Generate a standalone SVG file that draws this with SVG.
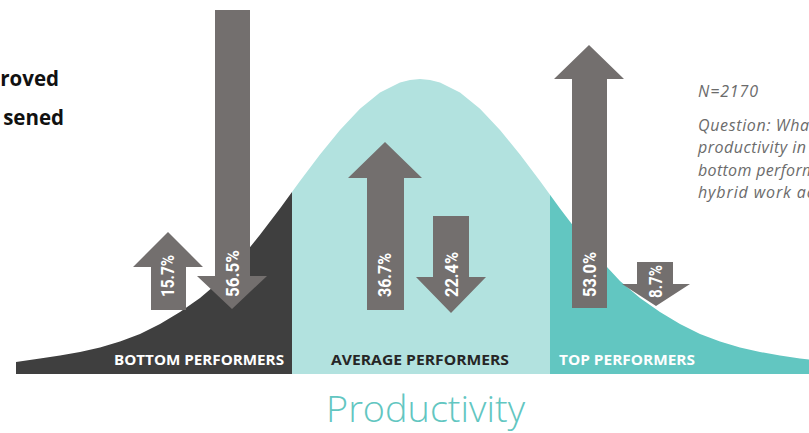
<svg xmlns="http://www.w3.org/2000/svg" width="809" height="433" viewBox="0 0 809 433">
<style>
.arrow{fill:#736f6e}
.pct{font-family:Roboto,"Liberation Sans",sans-serif;font-weight:700;font-size:18px;fill:#ffffff}
.seg{font-family:"Open Sans","Liberation Sans",sans-serif;font-weight:700;font-size:14px}
.note{font-family:"Open Sans","Liberation Sans",sans-serif;font-style:italic;font-size:16px;fill:#6b6b6b}
.legend{font-family:"Open Sans","Liberation Sans",sans-serif;font-weight:700;font-size:20.5px;fill:#111111}
</style>
<defs>
<clipPath id="bell">
<polygon points="16,374 16,362 40,358.5 60,355.5 80,352 100,347.5 120,341.5 140,334 160,324 180,312 200,298 220,281 240,259.6 260,234.8 280,208.4 300,181 320,154.4 340,129.9 360,108.8 380,92.6 400,82.5 410,80 420,79 430,80 440,82.5 460,92.6 480,108.8 500,129.9 520,154.4 540,181 560,208.4 580,234.8 600,259.6 620,281 640,298 660,312 680,324 700,334 720,341.5 740,347.5 760,352 780,355.5 800,358.5 809,359.5 809,374"/>
</clipPath>
</defs>
<rect width="809" height="433" fill="#ffffff"/>
<g id="curve" clip-path="url(#bell)">
<rect x="16" y="0" width="276" height="374" fill="#3f3f3f"/>
<rect x="292" y="0" width="258" height="374" fill="#b2e2df"/>
<rect x="550" y="0" width="259" height="374" fill="#62c6c1"/>
</g>
<g id="segment-labels">
<text class="seg" x="114" y="365" fill="#ffffff" textLength="170" lengthAdjust="spacingAndGlyphs">BOTTOM PERFORMERS</text>
<text class="seg" x="331" y="365" fill="#262626" textLength="178" lengthAdjust="spacingAndGlyphs">AVERAGE PERFORMERS</text>
<text class="seg" x="559" y="365" fill="#ffffff" textLength="136" lengthAdjust="spacingAndGlyphs">TOP PERFORMERS</text>
</g>
<g id="arrow-bottom-up">
<polygon class="arrow" points="168,232 203,267 186,267 186,310 151,310 151,267 133,267"/>
<text class="pct" transform="translate(167,297) rotate(-90)" x="0" y="6.5" textLength="42" lengthAdjust="spacingAndGlyphs">15.7%</text>
</g>
<g id="arrow-bottom-down">
<polygon class="arrow" points="215,10 250,10 250,276 267,276 232,309 197,276 215,276"/>
<text class="pct" transform="translate(232,297) rotate(-90)" x="0" y="6.5" textLength="47" lengthAdjust="spacingAndGlyphs">56.5%</text>
</g>
<g id="arrow-average-up">
<polygon class="arrow" points="385,142 422,178 404,178 404,310 367,310 367,178 348,178"/>
<text class="pct" transform="translate(384,297) rotate(-90)" x="0" y="6.5" textLength="44" lengthAdjust="spacingAndGlyphs">36.7%</text>
</g>
<g id="arrow-average-down">
<polygon class="arrow" points="433,216 469,216 469,277 486,277 451,313 416,277 433,277"/>
<text class="pct" transform="translate(451,297) rotate(-90)" x="0" y="6.5" textLength="45" lengthAdjust="spacingAndGlyphs">22.4%</text>
</g>
<g id="arrow-top-up">
<polygon class="arrow" points="589,45 624,79 607,79 607,308 572,308 572,79 554,79"/>
<text class="pct" transform="translate(589,297) rotate(-90)" x="0" y="6.5" textLength="45" lengthAdjust="spacingAndGlyphs">53.0%</text>
</g>
<g id="arrow-top-down">
<polygon class="arrow" points="637,262 673,262 673,284 690,284 656,306 622,284 637,284"/>
<text class="pct" transform="translate(655,298) rotate(-90)" x="0" y="6.5" textLength="33" lengthAdjust="spacingAndGlyphs">8.7%</text>
</g>
<g id="legend">
<text class="legend" x="59" y="86" text-anchor="end">roved</text>
<text class="legend" x="64" y="125" text-anchor="end">sened</text>
</g>
<g id="notes">
<text class="note" x="698" y="97" textLength="60" lengthAdjust="spacing">N=2170</text>
<text class="note" x="698" y="131" textLength="117" lengthAdjust="spacing">Question: What</text>
<text class="note" x="698" y="153" textLength="108" lengthAdjust="spacing">productivity in</text>
<text class="note" x="698" y="176" textLength="118" lengthAdjust="spacing">bottom perform</text>
<text class="note" x="698" y="198" textLength="116" lengthAdjust="spacing">hybrid work ac</text>
</g>
<g id="axis-title">
<text x="326" y="422" font-family="'Open Sans','Liberation Sans',sans-serif" font-weight="300" font-size="36" fill="#62c6c1" textLength="199" lengthAdjust="spacingAndGlyphs">Productivity</text>
</g>
</svg>
